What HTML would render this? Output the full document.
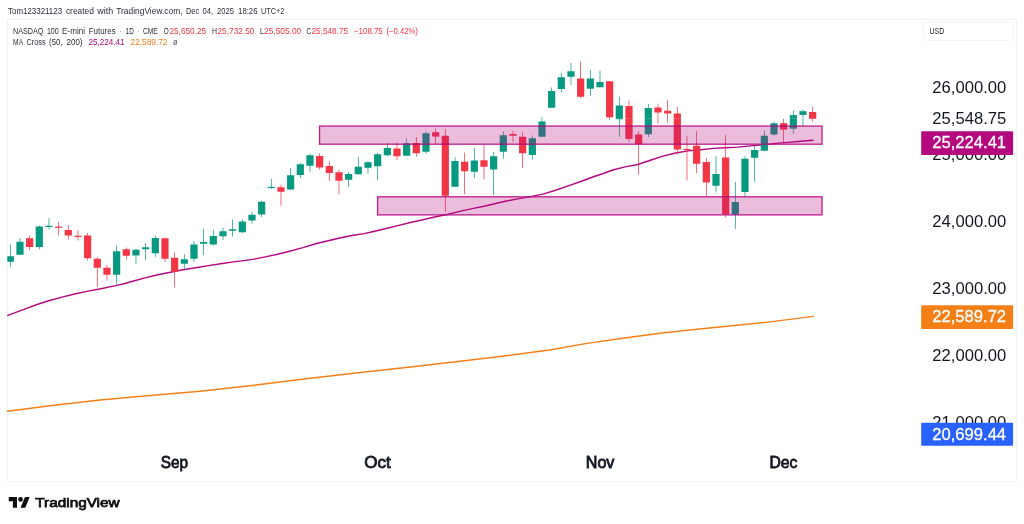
<!DOCTYPE html>
<html lang="en"><head><meta charset="utf-8"><title>NASDAQ 100 E-mini Futures chart</title>
<style>html,body{margin:0;padding:0;background:#fff;}body{width:1024px;height:524px;overflow:hidden;font-family:"Liberation Sans",sans-serif;}svg{display:block;}</style></head>
<body>
<svg width="1024" height="524" viewBox="0 0 1024 524" font-family="'Liberation Sans', sans-serif">
<rect x="0" y="0" width="1024" height="524" fill="#ffffff"/>
<rect x="7.5" y="19.5" width="1009" height="462" fill="none" stroke="#f1f2f5" stroke-width="1"/>
<polyline points="7.80,315.40 25.20,308.90 37.80,304.30 50.40,300.30 63.00,296.90 75.60,293.75 88.20,291.10 100.80,288.70 113.40,286.10 124.00,283.80 132.60,281.30 145.20,277.90 157.80,274.70 170.40,272.20 183.00,269.70 195.60,267.70 208.20,265.60 220.80,263.75 233.40,261.90 244.00,260.60 252.60,259.40 265.20,256.90 277.80,254.20 290.40,251.00 303.00,247.60 315.60,243.80 328.20,240.70 340.80,237.80 353.40,235.30 364.00,233.60 372.60,231.70 385.20,228.80 397.80,225.60 410.40,222.50 423.00,219.70 435.60,216.80 448.20,214.30 460.80,211.10 473.40,208.40 484.00,206.20 492.60,204.20 505.20,201.30 517.80,198.90 530.40,196.60 543.00,194.10 555.60,190.30 568.20,185.90 580.80,181.50 593.40,176.80 604.00,173.30 612.60,170.00 625.20,166.85 637.80,164.50 650.40,160.30 663.00,156.10 675.60,153.00 688.20,150.90 700.80,149.80 713.40,148.35 725.20,147.80 737.80,147.15 750.40,145.90 763.00,144.90 775.60,143.40 788.20,142.40 800.80,141.20 813.00,140.20" fill="none" stroke="#b4087f" stroke-width="1.45" stroke-linejoin="round" stroke-linecap="round"/>
<polyline points="7.50,411.25 50.00,405.75 100.00,400.00 150.00,395.50 200.00,391.25 250.00,385.75 306.00,378.75 356.00,373.00 406.00,367.50 456.00,361.75 506.00,355.75 549.50,350.00 587.00,343.40 624.50,338.00 662.00,333.00 699.50,329.00 737.00,325.30 768.00,322.10 813.40,316.40" fill="none" stroke="#f57f17" stroke-width="1.4" stroke-linejoin="round" stroke-linecap="round"/>
<defs><clipPath id="pane"><rect x="7.3" y="20" width="1009" height="461"/></clipPath></defs>
<g clip-path="url(#pane)">
<rect x="9.94" y="244.50" width="0.72" height="22.25" fill="#089981"/>
<rect x="6.70" y="256.25" width="7.2" height="5.50" fill="#089981"/>
<rect x="19.61" y="238.00" width="0.72" height="17.00" fill="#089981"/>
<rect x="16.37" y="241.75" width="7.2" height="13.00" fill="#089981"/>
<rect x="29.27" y="235.50" width="0.72" height="14.50" fill="#f23645"/>
<rect x="26.03" y="238.25" width="7.2" height="8.75" fill="#f23645"/>
<rect x="38.94" y="225.50" width="0.72" height="23.75" fill="#089981"/>
<rect x="35.70" y="226.50" width="7.2" height="20.50" fill="#089981"/>
<rect x="48.61" y="218.00" width="0.72" height="11.50" fill="#089981"/>
<rect x="45.37" y="225.80" width="7.2" height="1.20" fill="#089981"/>
<rect x="58.28" y="222.00" width="0.72" height="13.50" fill="#f23645"/>
<rect x="55.04" y="226.60" width="7.2" height="1.20" fill="#f23645"/>
<rect x="67.94" y="225.00" width="0.72" height="14.50" fill="#f23645"/>
<rect x="64.70" y="230.00" width="7.2" height="5.50" fill="#f23645"/>
<rect x="77.61" y="230.50" width="0.72" height="10.00" fill="#f23645"/>
<rect x="74.37" y="235.80" width="7.2" height="1.20" fill="#f23645"/>
<rect x="87.28" y="233.00" width="0.72" height="27.50" fill="#f23645"/>
<rect x="84.04" y="235.50" width="7.2" height="22.75" fill="#f23645"/>
<rect x="96.94" y="257.00" width="0.72" height="29.75" fill="#f23645"/>
<rect x="93.70" y="258.75" width="7.2" height="9.00" fill="#f23645"/>
<rect x="106.61" y="265.00" width="0.72" height="15.75" fill="#f23645"/>
<rect x="103.37" y="267.75" width="7.2" height="7.00" fill="#f23645"/>
<rect x="116.28" y="245.50" width="0.72" height="38.75" fill="#089981"/>
<rect x="113.04" y="251.25" width="7.2" height="23.50" fill="#089981"/>
<rect x="125.94" y="247.50" width="0.72" height="12.00" fill="#f23645"/>
<rect x="122.70" y="249.25" width="7.2" height="6.50" fill="#f23645"/>
<rect x="135.61" y="248.75" width="0.72" height="15.00" fill="#089981"/>
<rect x="132.37" y="249.75" width="7.2" height="5.75" fill="#089981"/>
<rect x="145.28" y="243.00" width="0.72" height="17.00" fill="#089981"/>
<rect x="142.04" y="247.25" width="7.2" height="2.00" fill="#089981"/>
<rect x="154.94" y="235.50" width="0.72" height="21.25" fill="#089981"/>
<rect x="151.71" y="238.00" width="7.2" height="15.25" fill="#089981"/>
<rect x="164.61" y="238.00" width="0.72" height="24.00" fill="#f23645"/>
<rect x="161.37" y="238.25" width="7.2" height="20.50" fill="#f23645"/>
<rect x="174.28" y="252.50" width="0.72" height="35.00" fill="#f23645"/>
<rect x="171.04" y="257.75" width="7.2" height="14.00" fill="#f23645"/>
<rect x="183.95" y="254.25" width="0.72" height="14.50" fill="#089981"/>
<rect x="180.71" y="259.25" width="7.2" height="4.50" fill="#089981"/>
<rect x="193.61" y="241.25" width="0.72" height="20.50" fill="#089981"/>
<rect x="190.37" y="244.50" width="7.2" height="14.25" fill="#089981"/>
<rect x="203.28" y="228.75" width="0.72" height="26.25" fill="#089981"/>
<rect x="200.04" y="242.00" width="7.2" height="1.75" fill="#089981"/>
<rect x="212.95" y="230.00" width="0.72" height="15.50" fill="#089981"/>
<rect x="209.71" y="236.00" width="7.2" height="8.50" fill="#089981"/>
<rect x="222.61" y="227.50" width="0.72" height="12.50" fill="#089981"/>
<rect x="219.37" y="231.25" width="7.2" height="5.00" fill="#089981"/>
<rect x="232.28" y="219.50" width="0.72" height="17.00" fill="#089981"/>
<rect x="229.04" y="229.25" width="7.2" height="1.50" fill="#089981"/>
<rect x="241.95" y="219.25" width="0.72" height="13.75" fill="#089981"/>
<rect x="238.71" y="221.50" width="7.2" height="10.75" fill="#089981"/>
<rect x="251.61" y="211.75" width="0.72" height="12.00" fill="#089981"/>
<rect x="248.38" y="214.75" width="7.2" height="5.75" fill="#089981"/>
<rect x="261.28" y="200.75" width="0.72" height="16.25" fill="#089981"/>
<rect x="258.04" y="201.75" width="7.2" height="12.75" fill="#089981"/>
<rect x="270.95" y="178.75" width="0.72" height="10.00" fill="#089981"/>
<rect x="267.71" y="186.90" width="7.2" height="1.20" fill="#089981"/>
<rect x="280.62" y="184.50" width="0.72" height="21.25" fill="#f23645"/>
<rect x="277.38" y="187.25" width="7.2" height="4.50" fill="#f23645"/>
<rect x="290.28" y="168.00" width="0.72" height="22.00" fill="#089981"/>
<rect x="287.04" y="175.25" width="7.2" height="14.25" fill="#089981"/>
<rect x="299.95" y="163.00" width="0.72" height="15.00" fill="#089981"/>
<rect x="296.71" y="164.25" width="7.2" height="10.75" fill="#089981"/>
<rect x="309.62" y="153.75" width="0.72" height="18.00" fill="#089981"/>
<rect x="306.38" y="155.25" width="7.2" height="10.50" fill="#089981"/>
<rect x="319.28" y="153.25" width="0.72" height="16.25" fill="#f23645"/>
<rect x="316.04" y="156.00" width="7.2" height="11.50" fill="#f23645"/>
<rect x="328.95" y="161.25" width="0.72" height="19.50" fill="#f23645"/>
<rect x="325.71" y="166.00" width="7.2" height="7.00" fill="#f23645"/>
<rect x="338.62" y="169.50" width="0.72" height="24.75" fill="#f23645"/>
<rect x="335.38" y="172.25" width="7.2" height="8.50" fill="#f23645"/>
<rect x="348.28" y="172.00" width="0.72" height="15.00" fill="#089981"/>
<rect x="345.04" y="174.00" width="7.2" height="5.75" fill="#089981"/>
<rect x="357.95" y="157.00" width="0.72" height="17.50" fill="#089981"/>
<rect x="354.71" y="166.75" width="7.2" height="7.50" fill="#089981"/>
<rect x="367.62" y="161.25" width="0.72" height="12.50" fill="#089981"/>
<rect x="364.38" y="162.25" width="7.2" height="5.50" fill="#089981"/>
<rect x="377.29" y="153.00" width="0.72" height="27.00" fill="#089981"/>
<rect x="374.05" y="154.25" width="7.2" height="12.00" fill="#089981"/>
<rect x="386.95" y="143.00" width="0.72" height="13.25" fill="#089981"/>
<rect x="383.71" y="148.00" width="7.2" height="7.25" fill="#089981"/>
<rect x="396.62" y="142.50" width="0.72" height="17.50" fill="#f23645"/>
<rect x="393.38" y="148.50" width="7.2" height="7.75" fill="#f23645"/>
<rect x="406.29" y="138.25" width="0.72" height="18.00" fill="#089981"/>
<rect x="403.05" y="143.25" width="7.2" height="12.50" fill="#089981"/>
<rect x="415.95" y="137.00" width="0.72" height="19.75" fill="#f23645"/>
<rect x="412.71" y="143.00" width="7.2" height="10.25" fill="#f23645"/>
<rect x="425.62" y="131.25" width="0.72" height="22.50" fill="#089981"/>
<rect x="422.38" y="133.25" width="7.2" height="18.50" fill="#089981"/>
<rect x="435.29" y="128.75" width="0.72" height="15.00" fill="#f23645"/>
<rect x="432.05" y="132.25" width="7.2" height="4.35" fill="#f23645"/>
<rect x="444.95" y="129.25" width="0.72" height="82.50" fill="#f23645"/>
<rect x="441.71" y="135.75" width="7.2" height="60.00" fill="#f23645"/>
<rect x="454.62" y="157.00" width="0.72" height="30.00" fill="#089981"/>
<rect x="451.38" y="161.00" width="7.2" height="25.75" fill="#089981"/>
<rect x="464.29" y="152.50" width="0.72" height="41.75" fill="#f23645"/>
<rect x="461.05" y="161.75" width="7.2" height="9.50" fill="#f23645"/>
<rect x="473.96" y="148.00" width="0.72" height="30.00" fill="#089981"/>
<rect x="470.72" y="160.50" width="7.2" height="11.25" fill="#089981"/>
<rect x="483.62" y="145.00" width="0.72" height="34.50" fill="#f23645"/>
<rect x="480.38" y="160.25" width="7.2" height="6.50" fill="#f23645"/>
<rect x="493.29" y="152.00" width="0.72" height="43.00" fill="#089981"/>
<rect x="490.05" y="156.25" width="7.2" height="13.25" fill="#089981"/>
<rect x="502.96" y="131.25" width="0.72" height="27.50" fill="#089981"/>
<rect x="499.72" y="135.25" width="7.2" height="16.50" fill="#089981"/>
<rect x="512.62" y="130.75" width="0.72" height="11.00" fill="#f23645"/>
<rect x="509.38" y="134.00" width="7.2" height="1.75" fill="#f23645"/>
<rect x="522.29" y="132.50" width="0.72" height="35.50" fill="#f23645"/>
<rect x="519.05" y="136.75" width="7.2" height="16.50" fill="#f23645"/>
<rect x="531.96" y="135.50" width="0.72" height="24.00" fill="#089981"/>
<rect x="528.72" y="138.25" width="7.2" height="16.75" fill="#089981"/>
<rect x="541.62" y="117.00" width="0.72" height="20.00" fill="#089981"/>
<rect x="538.38" y="121.50" width="7.2" height="15.25" fill="#089981"/>
<rect x="551.29" y="87.50" width="0.72" height="20.50" fill="#089981"/>
<rect x="548.05" y="91.00" width="7.2" height="16.75" fill="#089981"/>
<rect x="560.96" y="73.00" width="0.72" height="19.50" fill="#089981"/>
<rect x="557.72" y="77.25" width="7.2" height="11.75" fill="#089981"/>
<rect x="570.63" y="63.00" width="0.72" height="22.00" fill="#089981"/>
<rect x="567.39" y="71.25" width="7.2" height="5.50" fill="#089981"/>
<rect x="580.29" y="61.75" width="0.72" height="36.25" fill="#f23645"/>
<rect x="577.05" y="78.50" width="7.2" height="18.25" fill="#f23645"/>
<rect x="589.96" y="70.00" width="0.72" height="26.00" fill="#089981"/>
<rect x="586.72" y="78.50" width="7.2" height="10.20" fill="#089981"/>
<rect x="599.63" y="70.50" width="0.72" height="17.00" fill="#089981"/>
<rect x="596.39" y="82.00" width="7.2" height="5.25" fill="#089981"/>
<rect x="609.29" y="81.00" width="0.72" height="39.00" fill="#f23645"/>
<rect x="606.05" y="81.25" width="7.2" height="36.00" fill="#f23645"/>
<rect x="618.96" y="96.75" width="0.72" height="40.00" fill="#089981"/>
<rect x="615.72" y="105.50" width="7.2" height="13.75" fill="#089981"/>
<rect x="628.63" y="100.50" width="0.72" height="41.50" fill="#f23645"/>
<rect x="625.39" y="106.00" width="7.2" height="33.00" fill="#f23645"/>
<rect x="638.29" y="131.25" width="0.72" height="43.25" fill="#f23645"/>
<rect x="635.05" y="134.50" width="7.2" height="9.75" fill="#f23645"/>
<rect x="647.96" y="104.25" width="0.72" height="32.75" fill="#089981"/>
<rect x="644.72" y="108.00" width="7.2" height="26.25" fill="#089981"/>
<rect x="657.63" y="103.75" width="0.72" height="19.75" fill="#f23645"/>
<rect x="654.39" y="107.50" width="7.2" height="5.00" fill="#f23645"/>
<rect x="667.30" y="100.00" width="0.72" height="22.50" fill="#f23645"/>
<rect x="664.06" y="110.75" width="7.2" height="2.75" fill="#f23645"/>
<rect x="676.96" y="107.00" width="0.72" height="47.50" fill="#f23645"/>
<rect x="673.72" y="113.50" width="7.2" height="36.00" fill="#f23645"/>
<rect x="686.63" y="135.75" width="0.72" height="44.75" fill="#f23645"/>
<rect x="683.39" y="148.90" width="7.2" height="1.20" fill="#f23645"/>
<rect x="696.30" y="131.25" width="0.72" height="41.75" fill="#f23645"/>
<rect x="693.06" y="145.75" width="7.2" height="18.00" fill="#f23645"/>
<rect x="705.96" y="158.00" width="0.72" height="37.75" fill="#f23645"/>
<rect x="702.72" y="162.00" width="7.2" height="20.50" fill="#f23645"/>
<rect x="715.63" y="156.25" width="0.72" height="36.25" fill="#089981"/>
<rect x="712.39" y="174.00" width="7.2" height="11.75" fill="#089981"/>
<rect x="725.30" y="135.00" width="0.72" height="82.50" fill="#f23645"/>
<rect x="722.06" y="157.50" width="7.2" height="56.75" fill="#f23645"/>
<rect x="734.96" y="182.00" width="0.72" height="46.75" fill="#089981"/>
<rect x="731.72" y="202.00" width="7.2" height="12.50" fill="#089981"/>
<rect x="744.63" y="156.25" width="0.72" height="41.25" fill="#089981"/>
<rect x="741.39" y="158.75" width="7.2" height="33.25" fill="#089981"/>
<rect x="754.30" y="146.25" width="0.72" height="35.50" fill="#089981"/>
<rect x="751.06" y="150.00" width="7.2" height="7.75" fill="#089981"/>
<rect x="763.97" y="130.50" width="0.72" height="20.75" fill="#089981"/>
<rect x="760.73" y="135.75" width="7.2" height="15.00" fill="#089981"/>
<rect x="773.63" y="122.00" width="0.72" height="13.75" fill="#089981"/>
<rect x="770.39" y="123.25" width="7.2" height="11.25" fill="#089981"/>
<rect x="783.30" y="118.90" width="0.72" height="23.60" fill="#f23645"/>
<rect x="780.06" y="123.20" width="7.2" height="6.40" fill="#f23645"/>
<rect x="792.97" y="110.40" width="0.72" height="23.35" fill="#089981"/>
<rect x="789.73" y="115.10" width="7.2" height="13.60" fill="#089981"/>
<rect x="802.63" y="109.40" width="0.72" height="17.10" fill="#089981"/>
<rect x="799.39" y="111.20" width="7.2" height="3.70" fill="#089981"/>
<rect x="812.30" y="106.70" width="0.72" height="15.00" fill="#f23645"/>
<rect x="809.06" y="112.00" width="7.2" height="6.90" fill="#f23645"/>
</g>
<line x1="8" y1="118.6" x2="920" y2="118.6" stroke="#ffffff" stroke-opacity="0.3" stroke-width="1" stroke-dasharray="1 1"/>
<rect x="319.55" y="126.05" width="502.45" height="18.15" fill="#b4087f" fill-opacity="0.27" stroke="#b4087f" stroke-opacity="0.9" stroke-width="1.3"/>
<rect x="377.6" y="196.8" width="444.40" height="18.10" fill="#b4087f" fill-opacity="0.27" stroke="#b4087f" stroke-opacity="0.9" stroke-width="1.3"/>
<text x="8.1" y="14.0" font-size="8.6" fill="#2a2e39" textLength="54.00" lengthAdjust="spacingAndGlyphs">Tom123321123</text>
<text x="65.9" y="14.0" font-size="8.6" fill="#2a2e39" textLength="28.10" lengthAdjust="spacingAndGlyphs">created</text>
<text x="97.25" y="14.0" font-size="8.6" fill="#2a2e39" textLength="15.85" lengthAdjust="spacingAndGlyphs">with</text>
<text x="116.25" y="14.0" font-size="8.6" fill="#2a2e39" textLength="66.25" lengthAdjust="spacingAndGlyphs">TradingView.com,</text>
<text x="185.9" y="14.0" font-size="8.6" fill="#2a2e39" textLength="13.50" lengthAdjust="spacingAndGlyphs">Dec</text>
<text x="202.5" y="14.0" font-size="8.6" fill="#2a2e39" textLength="10.60" lengthAdjust="spacingAndGlyphs">04,</text>
<text x="217.1" y="14.0" font-size="8.6" fill="#2a2e39" textLength="16.90" lengthAdjust="spacingAndGlyphs">2025</text>
<text x="238.1" y="14.0" font-size="8.6" fill="#2a2e39" textLength="19.40" lengthAdjust="spacingAndGlyphs">18:26</text>
<text x="260.9" y="14.0" font-size="8.6" fill="#2a2e39" textLength="23.50" lengthAdjust="spacingAndGlyphs">UTC+2</text>
<text x="13.1" y="33.5" font-size="8.5" fill="#2a2e39" textLength="30.30" lengthAdjust="spacingAndGlyphs">NASDAQ</text>
<text x="46.9" y="33.5" font-size="8.5" fill="#2a2e39" textLength="11.85" lengthAdjust="spacingAndGlyphs">100</text>
<text x="62.1" y="33.5" font-size="8.5" fill="#2a2e39" textLength="22.90" lengthAdjust="spacingAndGlyphs">E-mini</text>
<text x="88.75" y="33.5" font-size="8.5" fill="#2a2e39" textLength="26.85" lengthAdjust="spacingAndGlyphs">Futures</text>
<text x="119.9" y="33.5" font-size="8.5" fill="#2a2e39" textLength="1.40" lengthAdjust="spacingAndGlyphs">·</text>
<text x="125.6" y="33.5" font-size="8.5" fill="#2a2e39" textLength="8.15" lengthAdjust="spacingAndGlyphs">1D</text>
<text x="137.4" y="33.5" font-size="8.5" fill="#2a2e39" textLength="1.40" lengthAdjust="spacingAndGlyphs">·</text>
<text x="143.1" y="33.5" font-size="8.5" fill="#2a2e39" textLength="14.65" lengthAdjust="spacingAndGlyphs">CME</text>
<text x="163.75" y="33.5" font-size="8.5" fill="#2a2e39" textLength="5.00" lengthAdjust="spacingAndGlyphs">O</text>
<text x="211.9" y="33.5" font-size="8.5" fill="#2a2e39" textLength="5.00" lengthAdjust="spacingAndGlyphs">H</text>
<text x="260" y="33.5" font-size="8.5" fill="#2a2e39" textLength="3.75" lengthAdjust="spacingAndGlyphs">L</text>
<text x="306.5" y="33.5" font-size="8.5" fill="#2a2e39" textLength="4.60" lengthAdjust="spacingAndGlyphs">C</text>
<text x="169.4" y="33.5" font-size="8.5" fill="#f23645" textLength="36.85" lengthAdjust="spacingAndGlyphs">25,650.25</text>
<text x="217.5" y="33.5" font-size="8.5" fill="#f23645" textLength="36.90" lengthAdjust="spacingAndGlyphs">25,732.50</text>
<text x="264" y="33.5" font-size="8.5" fill="#f23645" textLength="37.25" lengthAdjust="spacingAndGlyphs">25,505.00</text>
<text x="311.5" y="33.5" font-size="8.5" fill="#f23645" textLength="36.60" lengthAdjust="spacingAndGlyphs">25,548.75</text>
<text x="354" y="33.5" font-size="8.5" fill="#f23645" textLength="28.75" lengthAdjust="spacingAndGlyphs">−108.75</text>
<text x="386.5" y="33.5" font-size="8.5" fill="#f23645" textLength="31.25" lengthAdjust="spacingAndGlyphs">(−0.42%)</text>
<text x="13.1" y="45.1" font-size="8.5" fill="#2a2e39" textLength="10.00" lengthAdjust="spacingAndGlyphs">MA</text>
<text x="26.5" y="45.1" font-size="8.5" fill="#2a2e39" textLength="19.10" lengthAdjust="spacingAndGlyphs">Cross</text>
<text x="49.1" y="45.1" font-size="8.5" fill="#2a2e39" textLength="13.40" lengthAdjust="spacingAndGlyphs">(50,</text>
<text x="66.6" y="45.1" font-size="8.5" fill="#2a2e39" textLength="15.90" lengthAdjust="spacingAndGlyphs">200)</text>
<text x="88.4" y="45.1" font-size="8.5" fill="#b4087f" textLength="36.20" lengthAdjust="spacingAndGlyphs">25,224.41</text>
<text x="130.6" y="45.1" font-size="8.5" fill="#f57f17" textLength="36.90" lengthAdjust="spacingAndGlyphs">22,589.72</text>
<text x="172.9" y="45.1" font-size="8.5" fill="#50535e" textLength="4.60" lengthAdjust="spacingAndGlyphs">ø</text>
<rect x="923.5" y="22" width="89.5" height="18.4" rx="3" ry="3" fill="#ffffff" stroke="#f1f2f5" stroke-width="1"/>
<text x="929.6" y="33.8" font-size="8.6" fill="#131722" textLength="14.5" lengthAdjust="spacingAndGlyphs">USD</text>
<text x="932.3" y="93.30" font-size="16.4" fill="#131722" textLength="74" lengthAdjust="spacingAndGlyphs">26,000.00</text>
<text x="932.3" y="160.20" font-size="16.4" fill="#131722" textLength="74" lengthAdjust="spacingAndGlyphs">25,000.00</text>
<text x="932.3" y="227.10" font-size="16.4" fill="#131722" textLength="74" lengthAdjust="spacingAndGlyphs">24,000.00</text>
<text x="932.3" y="294.00" font-size="16.4" fill="#131722" textLength="74" lengthAdjust="spacingAndGlyphs">23,000.00</text>
<text x="932.3" y="360.90" font-size="16.4" fill="#131722" textLength="74" lengthAdjust="spacingAndGlyphs">22,000.00</text>
<text x="932.3" y="427.80" font-size="16.4" fill="#131722" textLength="74" lengthAdjust="spacingAndGlyphs">21,000.00</text>
<text x="932.3" y="124.20" font-size="16.4" fill="#131722" textLength="74" lengthAdjust="spacingAndGlyphs">25,548.75</text>
<rect x="921.2" y="131.2" width="91.9" height="23.700000000000017" rx="1" ry="1" fill="#b4087f"/>
<text x="932.3" y="148.00" font-size="16.4" fill="#ffffff" stroke="#ffffff" stroke-width="0.3" textLength="73.8" lengthAdjust="spacingAndGlyphs">25,224.41</text>
<rect x="921.2" y="305.3" width="91.9" height="23.599999999999966" rx="1" ry="1" fill="#f57f17"/>
<text x="932.3" y="322.00" font-size="16.4" fill="#ffffff" stroke="#ffffff" stroke-width="0.3" textLength="73.8" lengthAdjust="spacingAndGlyphs">22,589.72</text>
<rect x="921.2" y="422.7" width="91.9" height="23.0" rx="1" ry="1" fill="#2962ff"/>
<text x="932.3" y="440.10" font-size="16.4" fill="#ffffff" stroke="#ffffff" stroke-width="0.3" textLength="73.8" lengthAdjust="spacingAndGlyphs">20,699.44</text>
<text x="160.80" y="467.5" font-size="15.7" fill="#131722" stroke="#131722" stroke-width="0.8" textLength="27.2" lengthAdjust="spacingAndGlyphs">Sep</text>
<text x="364.25" y="467.5" font-size="15.7" fill="#131722" stroke="#131722" stroke-width="0.8" textLength="26.5" lengthAdjust="spacingAndGlyphs">Oct</text>
<text x="585.75" y="467.5" font-size="15.7" fill="#131722" stroke="#131722" stroke-width="0.8" textLength="28.7" lengthAdjust="spacingAndGlyphs">Nov</text>
<text x="769.50" y="467.5" font-size="15.7" fill="#131722" stroke="#131722" stroke-width="0.8" textLength="28" lengthAdjust="spacingAndGlyphs">Dec</text>
<g transform="translate(8.75,494.6) scale(0.59,0.603)" fill="#0f0f12"><path d="M14 22H7V11H0V4h14v18z"/><circle cx="20" cy="8" r="4"/><path d="M28 22h-8l7.5-18h8L28 22z"/></g>
<text x="35.3" y="506.75" font-size="13.3" fill="#0f0f12" stroke="#0f0f12" stroke-width="0.75" textLength="84.3" lengthAdjust="spacingAndGlyphs">TradingView</text>
</svg>
</body></html>
